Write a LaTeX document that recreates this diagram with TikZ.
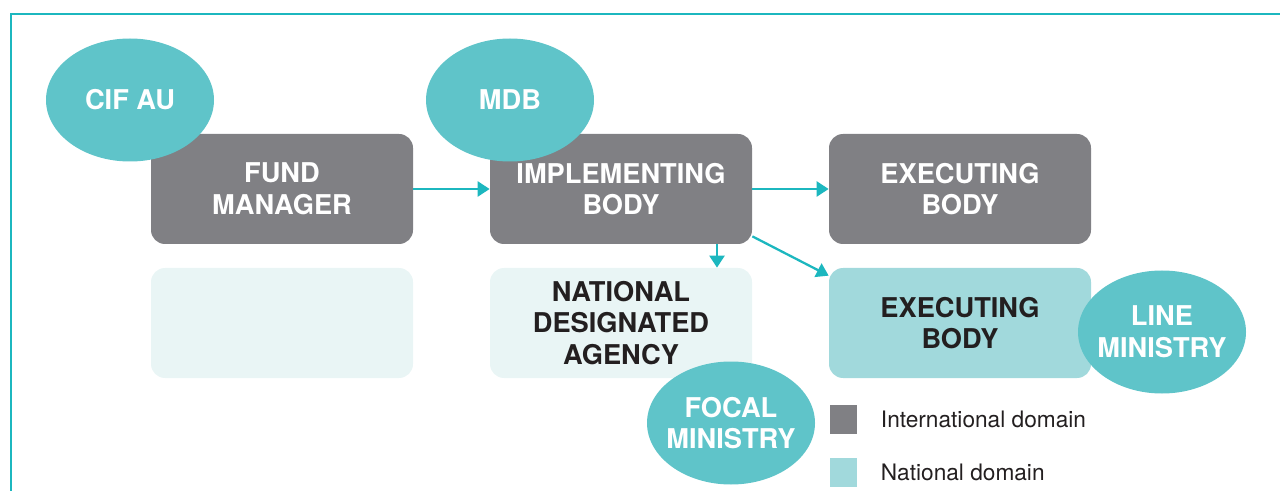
\documentclass[tikz,border=0pt]{standalone}
\usepackage{fontspec}
\setmainfont{TeX Gyre Heros}
\usepackage{tikz}
\usetikzlibrary{arrows.meta,shapes,positioning}
\usepackage{xcolor}
\definecolor{cifgray}{RGB}{128,128,132}
\definecolor{cifteal}{RGB}{28,183,191}
\definecolor{cifellipse}{RGB}{95,196,201}
\definecolor{cifnat}{RGB}{161,217,220}
\definecolor{cifpale}{RGB}{233,245,245}
\definecolor{cifdark}{RGB}{35,31,32}
\tikzstyle{arrow} = [line width=1.3pt,-{Triangle[length=0.24cm,width=0.3cm]},color=cifteal]
\tikzstyle{intbox} = [rectangle, rounded corners=0.28cm, minimum width=5.24cm, minimum height=2.2cm, text centered, align=center, fill=cifgray, text=white, font=\fontsize{15.5}{18}\selectfont\bfseries]
\tikzstyle{natbox} = [intbox, fill=cifnat, text=cifdark]
\tikzstyle{emptybox} = [intbox, fill=cifpale, text=cifdark]
\tikzstyle{actor} = [ellipse, minimum width=3.36cm, minimum height=2.46cm, inner sep=-0.12cm, align=center, fill=cifellipse, text=white, font=\fontsize{15.5}{18}\selectfont\bfseries]
\tikzstyle{legsquare} = [rectangle, minimum width=0.55cm, minimum height=0.58cm, inner sep=0pt]
\tikzstyle{legtext} = [anchor=west, inner sep=0pt, text=cifdark, font=\fontsize{12.9}{15}\selectfont]

\begin{document}
\begin{tikzpicture}[node distance=6.78cm]
\useasboundingbox (0,0) rectangle (25.6,-9.82);
% frame
\draw[cifteal, line width=1.1pt] (25.6,-0.28) -- (0.22,-0.28) -- (0.22,-9.82);

% International domain
\node (fund) [intbox] at (5.64,-3.78) {FUND\\MANAGER};
\node (implementing) [intbox, right of=fund] {IMPLEMENTING\\BODY};
\node (executing) [intbox, right of=implementing] {EXECUTING\\BODY};

% National domain
\node (empty) [emptybox, below of=fund, node distance=2.68cm] {};
\node (nda) [emptybox, below of=implementing, node distance=2.68cm] {NATIONAL\\DESIGNATED\\AGENCY};
\node (execnat) [natbox, below of=executing, node distance=2.68cm] {EXECUTING\\BODY};

% Arrows
\draw [arrow] (fund) -- (implementing);
\draw [arrow] (implementing) -- (executing);
\draw [arrow] ([xshift=1.92cm]implementing.south) -- ([xshift=1.92cm]nda.north);
\draw [arrow] ([yshift=0.16cm]implementing.south east) -- ([yshift=-0.16cm]execnat.north west);

% Actors
\node (cifau) [actor] at (2.6,-2.0) {CIF AU};
\node (mdb) [actor] at (10.2,-2.0) {MDB};
\node (focal) [actor] at (14.62,-8.46) {FOCAL\\MINISTRY};
\node (line) [actor] at (23.24,-6.64) {LINE\\MINISTRY};

% Legend
\node (legint) [legsquare, fill=cifgray] at (16.87,-8.39) {};
\node (legnat) [legsquare, fill=cifnat, below=0.46cm of legint] {};
\node (legintlabel) [legtext, right=0.46cm of legint] {International domain};
\node (legnatlabel) [legtext, right=0.46cm of legnat] {National domain};
\end{tikzpicture}
\end{document}
